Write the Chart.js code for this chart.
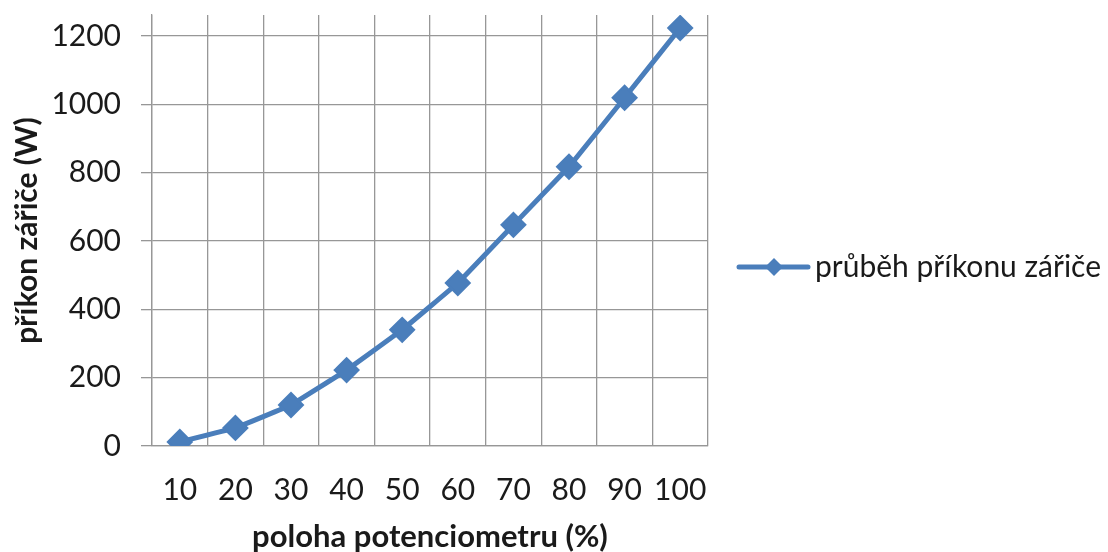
<!DOCTYPE html>
<html lang="cs">
<head>
<meta charset="UTF-8">
<title>příkon zářiče</title>
<script src="https://cdn.jsdelivr.net/npm/chart.js"></script>
<style>
    html, body { margin: 0; padding: 0; background: #fff; }
    #wrap { width: 1108px; height: 552px; }
</style>
</head>
<body>
<div id="wrap"><canvas id="chart" width="1108" height="552"></canvas></div>
<script>
    const categories = ['10', '20', '30', '40', '50', '60', '70', '80', '90', '100'];
    const prikon = [12, 53, 120, 222, 340, 477, 647, 817, 1019, 1223];
    const seriesName = 'průběh příkonu zářiče';
    const xTitle = 'poloha potenciometru (%)';
    const yTitle = 'příkon zářiče (W)';

    const blue = '#4a7ebb';
    const gridColor = '#979797';
    const fontFamily = 'Lato, "Open Sans", sans-serif';

    // legend drawn to the right of the plot: line + diamond + text
    const sideLegend = {
        id: 'sideLegend',
        afterDraw(chart) {
            const ctx = chart.ctx;
            const x0 = chart.chartArea.right + 31;
            const y = chart.height / 2 - 9;
            ctx.save();
            ctx.strokeStyle = blue;
            ctx.lineWidth = 5;
            ctx.lineCap = 'round';
            ctx.beginPath();
            ctx.moveTo(x0, y);
            ctx.lineTo(x0 + 69, y);
            ctx.stroke();
            ctx.fillStyle = blue;
            ctx.beginPath();
            ctx.moveTo(x0 + 35, y - 9);
            ctx.lineTo(x0 + 44, y);
            ctx.lineTo(x0 + 35, y + 9);
            ctx.lineTo(x0 + 26, y);
            ctx.closePath();
            ctx.fill();
            ctx.fillStyle = '#1a1a1a';
            ctx.font = '30px ' + fontFamily;
            ctx.textBaseline = 'middle';
            ctx.textAlign = 'left';
            ctx.fillText(seriesName, x0 + 76, y);
            ctx.restore();
        }
    };

    new Chart(document.getElementById('chart'), {
        type: 'line',
        data: {
            labels: categories,
            datasets: [{
                label: seriesName,
                data: prikon,
                borderColor: blue,
                backgroundColor: blue,
                borderWidth: 5,
                pointStyle: 'rectRot',
                pointRadius: 12,
                pointBorderWidth: 2,
                tension: 0.05
            }]
        },
        options: {
            responsive: false,
            animation: false,
            layout: { padding: { top: 15, right: 400, left: 0, bottom: 0 } },
            plugins: {
                legend: { display: false },
                tooltip: { enabled: false }
            },
            scales: {
                x: {
                    offset: true,
                    grid: { offset: true, color: gridColor, lineWidth: 1.3, drawTicks: false },
                    border: { color: gridColor, width: 1.3 },
                    ticks: {
                        color: '#1a1a1a', padding: 26, autoSkip: false,
                        maxRotation: 0, minRotation: 0,
                        font: { family: fontFamily, size: 30 }
                    },
                    title: {
                        display: true, text: xTitle, color: '#1a1a1a',
                        padding: { top: 0, bottom: 0 },
                        font: { family: fontFamily, size: 31, weight: 'bold', lineHeight: 1 }
                    },
                    afterFit(scale) {
                        scale.height = 106;
                        scale.paddingLeft = 0;
                        scale.paddingRight = 0;
                    }
                },
                y: {
                    min: 0,
                    max: 1261,
                    grid: { color: gridColor, lineWidth: 1.3, tickLength: 11 },
                    border: { color: gridColor, width: 1.3 },
                    ticks: {
                        stepSize: 200, includeBounds: false, color: '#1a1a1a', padding: 20,
                        font: { family: fontFamily, size: 30 },
                        callback: v => String(v)
                    },
                    title: {
                        display: true, text: yTitle, color: '#1a1a1a',
                        padding: { top: 12, bottom: 0 },
                        font: { family: fontFamily, size: 30, weight: 'bold', lineHeight: 1 }
                    },
                    afterFit(scale) {
                        scale.width = 152;
                        scale.paddingTop = 0;
                        scale.paddingBottom = 0;
                    }
                }
            }
        },
        plugins: [sideLegend]
    });
</script>
</body>
</html>
